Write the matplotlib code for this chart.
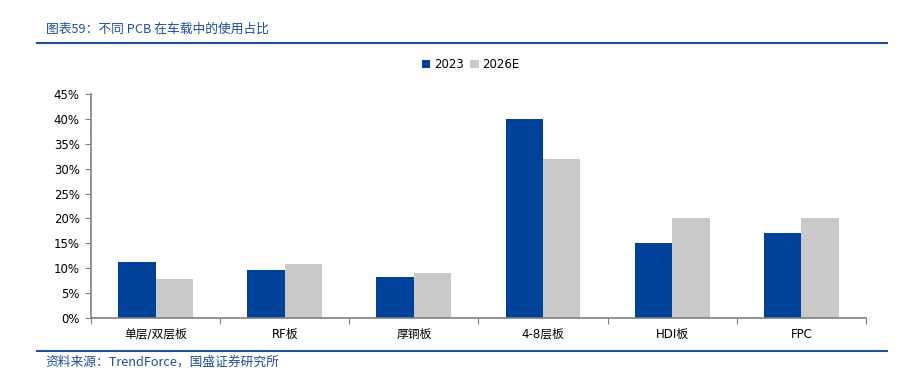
import matplotlib.pyplot as plt
import numpy as np
from matplotlib.lines import Line2D

plt.switch_backend('Agg')
plt.rcParams['font.family'] = ['DejaVu Sans', 'Noto Sans CJK SC']

categories = ['单层/双层板', 'RF板', '厚铜板', '4-8层板', 'HDI板', 'FPC']
share_2023 = [11.2, 9.6, 8.2, 40.0, 15.0, 17.0]
share_2026e = [7.8, 10.8, 9.0, 32.0, 20.0, 20.0]
series_names = ['2023', '2026E']
yticks = [0, 5, 10, 15, 20, 25, 30, 35, 40, 45]

blue = '#00419A'
gray = '#C9C9C9'
text_blue = '#1F4E9C'

fig = plt.figure(figsize=(9.16, 3.84), dpi=100)
ax = fig.add_axes([0.0993, 0.172, 0.846, 0.583])

x = np.arange(len(categories))
w = 0.29
ax.bar(x - w / 2, share_2023, width=w, color=blue, label=series_names[0])
ax.bar(x + w / 2, share_2026e, width=w, color=gray, label=series_names[1])

ax.set_xlim(-0.5, len(categories) - 0.5)
ax.set_ylim(0, 45)
ax.set_yticks(yticks)
ax.set_yticklabels([f'{v}%' for v in yticks], fontsize=8.5)
ax.set_xticks(np.arange(len(categories) + 1) - 0.5)
ax.set_xticklabels([])
ax.set_xticks(x, minor=True)
ax.set_xticklabels(categories, minor=True, fontsize=8.5,
                   family=['DejaVu Sans', 'Noto Sans CJK SC'])
ax.tick_params(axis='x', which='minor', length=0, pad=7)
ax.tick_params(axis='x', which='major', length=4, color='#808080', direction='out')
ax.tick_params(axis='y', length=4, color='#808080', direction='out', pad=4)

for side in ['top', 'right']:
    ax.spines[side].set_visible(False)
for side in ['left', 'bottom']:
    ax.spines[side].set_color('#808080')
    ax.spines[side].set_linewidth(1.2)

ax.legend(loc='center', bbox_to_anchor=(0.49, 1.13), ncol=2, frameon=False,
          fontsize=8.5, handlelength=0.7, handleheight=0.7, handletextpad=0.3,
          columnspacing=0.6)

# header and footer
fig.text(0.05, 0.925, '图表59：不同 PCB 在车载中的使用占比', fontsize=9.2, color=text_blue,
         style='italic', family=['Noto Sans CJK SC', 'DejaVu Sans'], va='center')
fig.add_artist(Line2D([0.04, 0.968], [0.888, 0.888], color=text_blue, lw=1.5))
fig.add_artist(Line2D([0.04, 0.968], [0.086, 0.086], color=text_blue, lw=1.5))
fig.text(0.05, 0.058, '资料来源：TrendForce，国盛证券研究所', fontsize=9.2, color=text_blue,
         style='italic', family=['Noto Sans CJK SC', 'DejaVu Sans'], va='center')

fig.savefig('out.png', dpi=100)
